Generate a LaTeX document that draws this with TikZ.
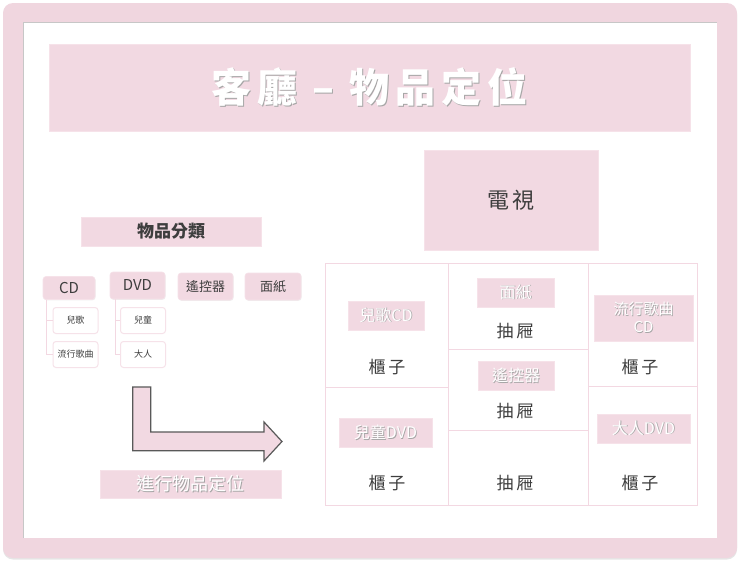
\documentclass[tikz,border=0pt]{standalone}
\usepackage{fontspec}
\setmainfont{Noto Sans CJK TC}
\newfontfamily\spacedfont[LetterSpace=15]{Noto Sans CJK TC}
\usetikzlibrary{shadows}

\definecolor{framepink}{RGB}{240,214,223}
\definecolor{boxpink}{RGB}{242,217,226}
\definecolor{edgepink}{RGB}{246,226,233}
\definecolor{gridpink}{RGB}{243,216,226}
\definecolor{inktext}{RGB}{62,62,62}

\newcommand{\shadowtext}[2][1pt]{\makebox[0pt][l]{\hspace{#1}\raisebox{-#1}{\color{black!35}#2}}{\color{white}#2}}

\tikzset{
  pinkbox/.style={rectangle, fill=boxpink, draw=edgepink, line width=0.6pt, inner sep=0pt, text=inktext},
  tabbox/.style={pinkbox, rounded corners=3pt, drop shadow={shadow xshift=0.6pt, shadow yshift=-0.8pt, opacity=0.12}},
  leafbox/.style={rectangle, rounded corners=3pt, fill=white, draw=edgepink, line width=1pt, minimum width=45pt, minimum height=26pt, inner sep=0pt, text=inktext, font=\fontsize{9}{10}\selectfont},
  cell/.style={rectangle, draw=gridpink, line width=1pt, inner sep=0pt},
  spot/.style={pinkbox, font=\fontsize{16}{18}\selectfont},
  furniture/.style={text=inktext, inner sep=0pt, font=\spacedfont\fontsize{17}{18}\selectfont},
  treeline/.style={draw=gridpink, line width=1pt}
}

\begin{document}
\begin{tikzpicture}[x=1pt, y=-1pt]

	\useasboundingbox (0,0) rectangle (740,562);
	\fill[framepink, rounded corners=10pt, drop shadow={shadow xshift=0pt, shadow yshift=-1.5pt, opacity=0.2}] (3,3) rectangle (737,558);
	\fill[white] (23,22) rectangle (717,538);
	\draw[black!22, line width=1pt] (23,538) -- (23,22) -- (717,22);

	\node[pinkbox, minimum width=641pt, minimum height=87pt, font=\spacedfont\bfseries\fontsize{40}{44}\selectfont](title) at (369.5,87.5){\shadowtext[1.2pt]{客廳 – 物品定位}};
	\node[pinkbox, minimum width=174pt, minimum height=100pt, font=\spacedfont\fontsize{22}{24}\selectfont](tv) at (511,200){電視};

	\node[pinkbox, minimum width=180pt, minimum height=29pt, font=\bfseries\fontsize{17}{20}\selectfont](sort) at (171,231.5){物品分類};
	\node[tabbox, minimum width=52pt, minimum height=23pt, font=\fontsize{15}{17}\selectfont](cd) at (69,288){CD};
	\node[tabbox, minimum width=55pt, minimum height=27pt, font=\fontsize{15}{17}\selectfont](dvd) at (137.5,285.5){DVD};
	\node[tabbox, minimum width=55pt, minimum height=27pt, font=\fontsize{13}{15}\selectfont](remote) at (205.5,286.5){遙控器};
	\node[tabbox, minimum width=56pt, minimum height=27pt, font=\fontsize{13}{15}\selectfont](tissue) at (273,286.5){面紙};

	\node[leafbox](song) at (75.5,320.5){兒歌};
	\node[leafbox](pop) at (75.5,354.5){流行歌曲};
	\node[leafbox](kids) at (143,320.5){兒童};
	\node[leafbox](adult) at (143,354.5){大人};

	\draw[treeline] ([xshift=4pt]cd.south west) |- (song.west);
	\draw[treeline] ([xshift=4pt]cd.south west) |- (pop.west);
	\draw[treeline] ([xshift=6pt]dvd.south west) |- (kids.west);
	\draw[treeline] ([xshift=6pt]dvd.south west) |- (adult.west);

	\draw[fill=boxpink, draw=black!65, line width=1.2pt] (132.7,387) -- (150.7,387) -- (150.7,432) -- (264,432) -- (264,422) -- (282,441.5) -- (264,461) -- (264,450.7) -- (132.7,450.7) -- cycle;
	\node[pinkbox, minimum width=181pt, minimum height=28pt, font=\fontsize{18}{20}\selectfont](go) at (190.5,484){\shadowtext[0.8pt]{進行物品定位}};

	\node[cell, minimum width=123pt, minimum height=124pt](songcell) at (386.5,325){};
	\node[cell, minimum width=123pt, minimum height=118pt](kidscell) at (386.5,446){};
	\node[cell, minimum width=140pt, minimum height=86pt](tissuecell) at (518,306){};
	\node[cell, minimum width=140pt, minimum height=81pt](remotecell) at (518,389.5){};
	\node[cell, minimum width=140pt, minimum height=75pt](emptycell) at (518,467.5){};
	\node[cell, minimum width=109pt, minimum height=123pt](popcell) at (642.5,324.5){};
	\node[cell, minimum width=109pt, minimum height=119pt](adultcell) at (642.5,445.5){};

	\node[spot, minimum width=76pt, minimum height=29pt](songspot) at (386,315.5){\shadowtext[0.8pt]{兒歌CD}};
	\node[spot, minimum width=77pt, minimum height=29pt](tissuespot) at (515.5,292.5){\shadowtext[0.8pt]{面紙}};
	\node[spot, minimum width=99pt, minimum height=46pt, align=center, font=\fontsize{15}{18}\selectfont](popspot) at (643.5,318){\shadowtext[0.8pt]{流行歌曲}\\\shadowtext[0.8pt]{CD}};
	\node[spot, minimum width=76pt, minimum height=29pt](remotespot) at (516,375.5){\shadowtext[0.8pt]{遙控器}};
	\node[spot, minimum width=93pt, minimum height=29pt](kidsspot) at (385.5,432.5){\shadowtext[0.8pt]{兒童DVD}};
	\node[spot, minimum width=93pt, minimum height=29pt](adultspot) at (643.5,428.5){\shadowtext[0.8pt]{大人DVD}};

	\node[furniture](cabinetone) at (387,367){櫃子};
	\node[furniture](cabinettwo) at (387,483){櫃子};
	\node[furniture](cabinetthree) at (640,367){櫃子};
	\node[furniture](cabinetfour) at (640,483){櫃子};
	\node[furniture](drawerone) at (515,331){抽屜};
	\node[furniture](drawertwo) at (515,411){抽屜};
	\node[furniture](drawerthree) at (515,483){抽屜};

\end{tikzpicture}
\end{document}
